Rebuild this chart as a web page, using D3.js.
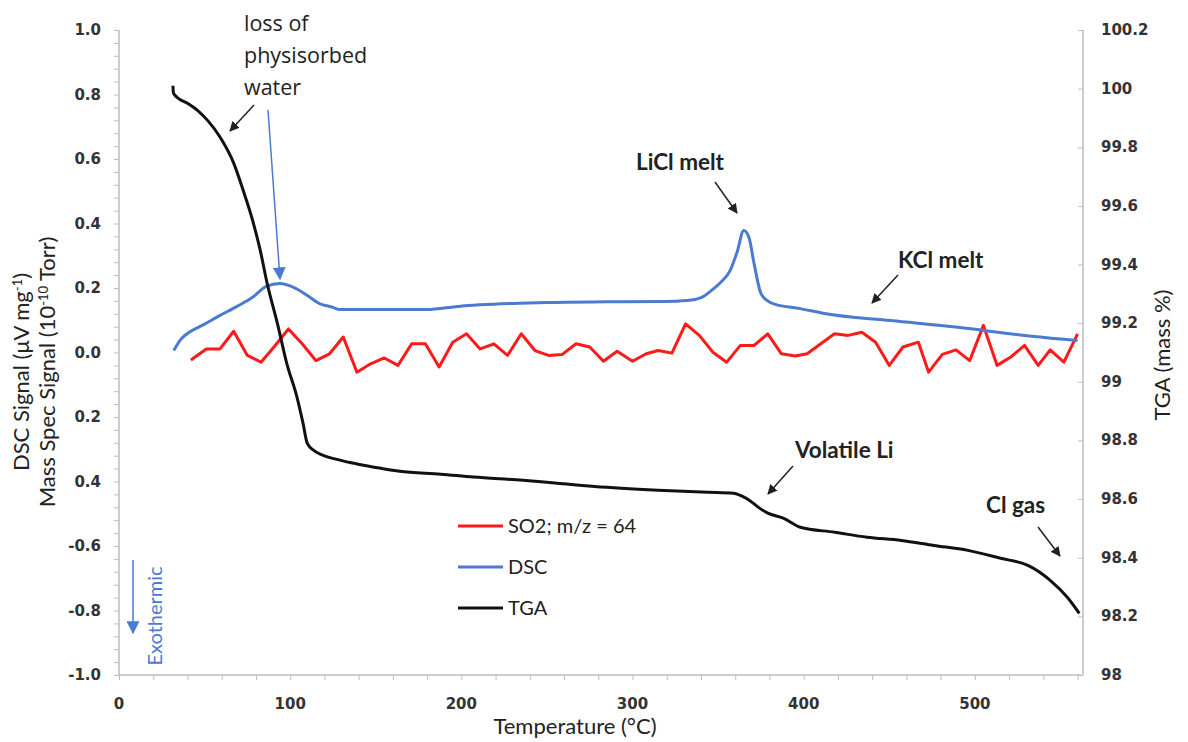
<!DOCTYPE html>
<html>
<head>
<meta charset="utf-8">
<style>
  body { margin: 0; background: #fff; }
  svg { display: block; }
  .tick-lbl { font-family: "DejaVu Sans"; font-weight: bold; font-size: 15px; fill: #333; }
  .title { font-family: "Lato"; font-size: 22px; fill: #222; }
  .note { font-family: "Lato"; font-weight: bold; font-size: 22.5px; fill: #222; }
</style>
<script src="https://d3js.org/d3.v7.min.js"></script>
</head>
<body>
<div id="chart"></div>
<script>

// SO2 (m/z = 64) mass spec signal, left axis
const so2Temp = [42, 51, 59, 67, 75, 83, 91, 99, 107, 115, 123, 131, 139, 147, 155, 163, 171, 179, 187, 195,
  203, 211, 219, 227, 235, 243, 251, 259, 267, 275, 283, 291, 300, 308, 315, 323, 331, 339, 347, 355,
  363, 371, 379, 387, 395, 402, 410, 418, 426, 434, 442, 450, 458, 467, 473, 481, 489, 497, 505, 513,
  521, 529, 537, 544, 552, 560]
const so2Signal = [-0.023, 0.011, 0.011, 0.066, -0.009, -0.030, 0.020, 0.073, 0.027, -0.025, -0.004, 0.048, -0.061, -0.035, -0.017, -0.040, 0.027, 0.027, -0.045, 0.032,
  0.058, 0.011, 0.027, -0.009, 0.058, 0.006, -0.009, -0.006, 0.027, 0.017, -0.027, 0.004, -0.027, -0.004, 0.006, -0.002, 0.089, 0.053, 0.001, -0.030,
  0.022, 0.022, 0.058, -0.004, -0.011, -0.004, 0.027, 0.058, 0.053, 0.063, 0.032, -0.040, 0.017, 0.032, -0.061, -0.006, 0.008, -0.025, 0.084, -0.040,
  -0.014, 0.022, -0.040, 0.008, -0.030, 0.058]

// DSC signal, left axis
const dscTemp = [32, 36, 40, 50, 59, 69, 78, 86, 94, 102, 110, 117, 125, 129, 150, 180, 198, 230, 250, 285,
  318, 332, 340, 346, 352, 357, 361, 365, 368, 371, 375, 379, 383, 398, 412, 451, 490, 529, 560]
const dscSignal = [0.006, 0.040, 0.059, 0.088, 0.115, 0.143, 0.171, 0.205, 0.214, 0.202, 0.177, 0.152, 0.140, 0.133, 0.133, 0.133, 0.143, 0.152, 0.155, 0.157,
  0.158, 0.161, 0.170, 0.192, 0.220, 0.254, 0.310, 0.378, 0.357, 0.276, 0.183, 0.160, 0.150, 0.136, 0.121, 0.099, 0.078, 0.053, 0.037]

// TGA mass %, right axis
const tgaTemp = [31.5, 31.8, 34, 40, 46, 52, 59, 67, 72.5, 78, 82.5, 86.5, 92.5, 98, 104, 107.5, 110, 114, 119, 129,
  139, 153, 164, 188, 207, 236, 256, 285, 315, 344, 359, 364, 369, 374, 379, 388, 398, 418, 437, 457,
  476, 496, 515, 531, 544, 554, 561]
const tgaMass = [100.01, 99.985, 99.97, 99.95, 99.925, 99.89, 99.835, 99.746, 99.654, 99.552, 99.449, 99.337, 99.20, 99.063, 98.947, 98.859, 98.79, 98.765, 98.75, 98.733,
  98.72, 98.705, 98.695, 98.685, 98.675, 98.664, 98.654, 98.640, 98.630, 98.623, 98.620, 98.610, 98.593, 98.570, 98.552, 98.535, 98.504, 98.487, 98.470, 98.459,
  98.442, 98.425, 98.398, 98.374, 98.323, 98.265, 98.210]

const xTicks = [0, 100, 200, 300, 400, 500]
const leftTicks = [-1.0, -0.8, -0.6, -0.4, -0.2, 0.0, 0.2, 0.4, 0.6, 0.8, 1.0]
const leftTickLabels = ['-1.0', '-0.8', '-0.6', '0.4', '0.2', '0.0', '0.2', '0.4', '0.6', '0.8', '1.0']
const rightTicks = [98, 98.2, 98.4, 98.6, 98.8, 99, 99.2, 99.4, 99.6, 99.8, 100, 100.2]

const seriesNames = ['SO2; m/z = 64', 'DSC', 'TGA']
const seriesColors = ['#ff1a1a', '#4a7bd0', '#111']

const width = 1188, height = 742
const margin = {top: 30, right: 107, bottom: 67, left: 119}

const svg = d3.select('#chart').append('svg')
  .attr('width', width)
  .attr('height', height)

const x = d3.scaleLinear().domain([0, 562]).range([margin.left, width - margin.right])
const yL = d3.scaleLinear().domain([-1, 1]).range([height - margin.bottom, margin.top])
const yR = d3.scaleLinear().domain([98, 100.2]).range([height - margin.bottom, margin.top])

const axisColor = '#bdbdbd'

// markers for the annotation arrows
const defs = svg.append('defs')
function marker(id, color, size) {
  defs.append('marker')
    .attr('id', id)
    .attr('viewBox', '0 -5 10 10')
    .attr('refX', 9)
    .attr('refY', 0)
    .attr('markerUnits', 'userSpaceOnUse')
    .attr('markerWidth', size)
    .attr('markerHeight', size)
    .attr('orient', 'auto')
    .append('path')
    .attr('d', 'M0,-5L10,0L0,5Z')
    .attr('fill', color)
}
marker('blk', '#222', 10)
marker('blu', '#4a7bd0', 13)

// bottom axis
const xAxis = svg.append('g')
  .attr('transform', `translate(0,${yL(-1)})`)
  .call(d3.axisBottom(x).tickValues(d3.range(0, 561, 20)).tickSize(5).tickFormat(''))
xAxis.selectAll('line').attr('stroke', axisColor)
xAxis.select('.domain').attr('stroke', axisColor).attr('stroke-width', 1.5).attr('d', `M${x(0)},0H${x(562)}`)
svg.append('g').selectAll('text')
  .data(xTicks)
  .join('text')
  .attr('class', 'tick-lbl')
  .attr('x', d => x(d))
  .attr('y', yL(-1) + 34)
  .attr('text-anchor', 'middle')
  .text(d => d)

// left axis
const lAxis = svg.append('g')
  .attr('transform', `translate(${x(0)},0)`)
  .call(d3.axisLeft(yL).tickValues(d3.range(-1, 1.001, 0.04)).tickSize(5).tickFormat(''))
lAxis.selectAll('line').attr('stroke', axisColor)
lAxis.select('.domain').attr('stroke', axisColor).attr('stroke-width', 1.5).attr('d', `M0,${yL(-1)}V${yL(1)}`)
svg.append('g').selectAll('text')
  .data(leftTicks)
  .join('text')
  .attr('class', 'tick-lbl')
  .attr('x', x(0) - 18)
  .attr('y', d => yL(d) + 5)
  .attr('text-anchor', 'end')
  .text((d, i) => leftTickLabels[i])

// right axis (ticks point inward)
const rAxis = svg.append('g')
  .attr('transform', `translate(${x(562) + 2},0)`)
  .call(d3.axisLeft(yR).tickValues(rightTicks).tickSize(5).tickFormat(''))
rAxis.selectAll('line').attr('stroke', axisColor)
rAxis.select('.domain').attr('stroke', axisColor).attr('stroke-width', 1.5).attr('d', `M0,${yR(98)}V${yR(100.2)}`)
svg.append('g').selectAll('text')
  .data(rightTicks)
  .join('text')
  .attr('class', 'tick-lbl')
  .attr('x', x(562) + 20)
  .attr('y', d => yR(d) + 5)
  .text(d => String(+d.toFixed(1)))

// axis titles
svg.append('text')
  .attr('class', 'title')
  .attr('x', 575).attr('y', 734)
  .attr('font-size', 23)
  .attr('text-anchor', 'middle')
  .text('Temperature (°C)')

const lt = svg.append('text')
  .attr('class', 'title')
  .attr('transform', 'translate(29,372) rotate(-90)')
  .attr('text-anchor', 'middle')
lt.append('tspan').text('DSC Signal (μV mg')
lt.append('tspan').attr('dy', -7).attr('font-size', 13).text('-1')
lt.append('tspan').attr('dy', 7).text(')')

const lt2 = svg.append('text')
  .attr('class', 'title')
  .attr('transform', 'translate(55,372) rotate(-90)')
  .attr('text-anchor', 'middle')
lt2.append('tspan').text('Mass Spec Signal (10')
lt2.append('tspan').attr('dy', -7).attr('font-size', 13).text('-10')
lt2.append('tspan').attr('dy', 7).text(' Torr)')

svg.append('text')
  .attr('class', 'title')
  .attr('transform', 'translate(1170,355) rotate(-90)')
  .attr('text-anchor', 'middle')
  .text('TGA (mass %)')

// series
const so2Line = d3.line().x(d => x(d[0])).y(d => yL(d[1]))
const dscLine = d3.line().x(d => x(d[0])).y(d => yL(d[1])).curve(d3.curveMonotoneX)
const tgaLine = d3.line().x(d => x(d[0])).y(d => yR(d[1])).curve(d3.curveMonotoneX)

svg.append('path')
  .datum(so2Temp.map((t, i) => [t, so2Signal[i]]))
  .attr('d', so2Line)
  .attr('fill', 'none')
  .attr('stroke', seriesColors[0])
  .attr('stroke-width', 3)
  .attr('stroke-linejoin', 'round')

svg.append('path')
  .datum(dscTemp.map((t, i) => [t, dscSignal[i]]))
  .attr('d', dscLine)
  .attr('fill', 'none')
  .attr('stroke', seriesColors[1])
  .attr('stroke-width', 3)

svg.append('path')
  .datum(tgaTemp.map((t, i) => [t, tgaMass[i]]))
  .attr('d', tgaLine)
  .attr('fill', 'none')
  .attr('stroke', seriesColors[2])
  .attr('stroke-width', 3)
  .attr('stroke-linejoin', 'round')

// legend
const legend = svg.append('g')
seriesNames.forEach((name, i) => {
  const ly = 526 + i * 41
  legend.append('line')
    .attr('x1', 458).attr('x2', 503)
    .attr('y1', ly).attr('y2', ly)
    .attr('stroke', seriesColors[i])
    .attr('stroke-width', 3)
  legend.append('text')
    .attr('x', 508).attr('y', ly + 7)
    .attr('font-family', 'Lato')
    .attr('font-size', 20)
    .attr('fill', '#222')
    .text(name)
})

// annotations
const water = svg.append('text')
  .attr('font-family', 'Open Sans')
  .attr('font-size', 21.5)
  .attr('fill', '#222')
;['loss of', 'physisorbed', 'water'].forEach((s, i) => {
  water.append('tspan').attr('x', 244).attr('y', 31 + i * 32).text(s)
})

function arrow(x1, y1, x2, y2, color, id, w) {
  svg.append('line')
    .attr('x1', x1).attr('y1', y1).attr('x2', x2).attr('y2', y2)
    .attr('stroke', color)
    .attr('stroke-width', w)
    .attr('marker-end', `url(#${id})`)
}
arrow(254, 105, 230, 131, '#222', 'blk', 1.5)
arrow(268, 110, 280, 279, '#4a7bd0', 'blu', 1.5)

const notes = [
  {text: 'LiCl melt', x: 636, y: 170},
  {text: 'KCl melt', x: 898, y: 268},
  {text: 'Volatile Li', x: 795, y: 458},
  {text: 'Cl gas', x: 986, y: 513}
]
notes.forEach(n => {
  svg.append('text').attr('class', 'note').attr('x', n.x).attr('y', n.y).text(n.text)
})
arrow(715, 182, 737, 213, '#222', 'blk', 1.5)
arrow(898, 275, 872, 303, '#222', 'blk', 1.5)
arrow(793, 466, 768, 494, '#222', 'blk', 1.5)
arrow(1038, 527, 1060, 556, '#222', 'blk', 1.5)

// exothermic indicator
arrow(133, 560, 133, 633, '#4a7bd0', 'blu', 1.5)
svg.append('text')
  .attr('transform', 'translate(162,616) rotate(-90)')
  .attr('text-anchor', 'middle')
  .attr('font-family', 'Lato')
  .attr('font-size', 20)
  .attr('fill', '#4a7bd0')
  .text('Exothermic')

</script>
</body>
</html>
